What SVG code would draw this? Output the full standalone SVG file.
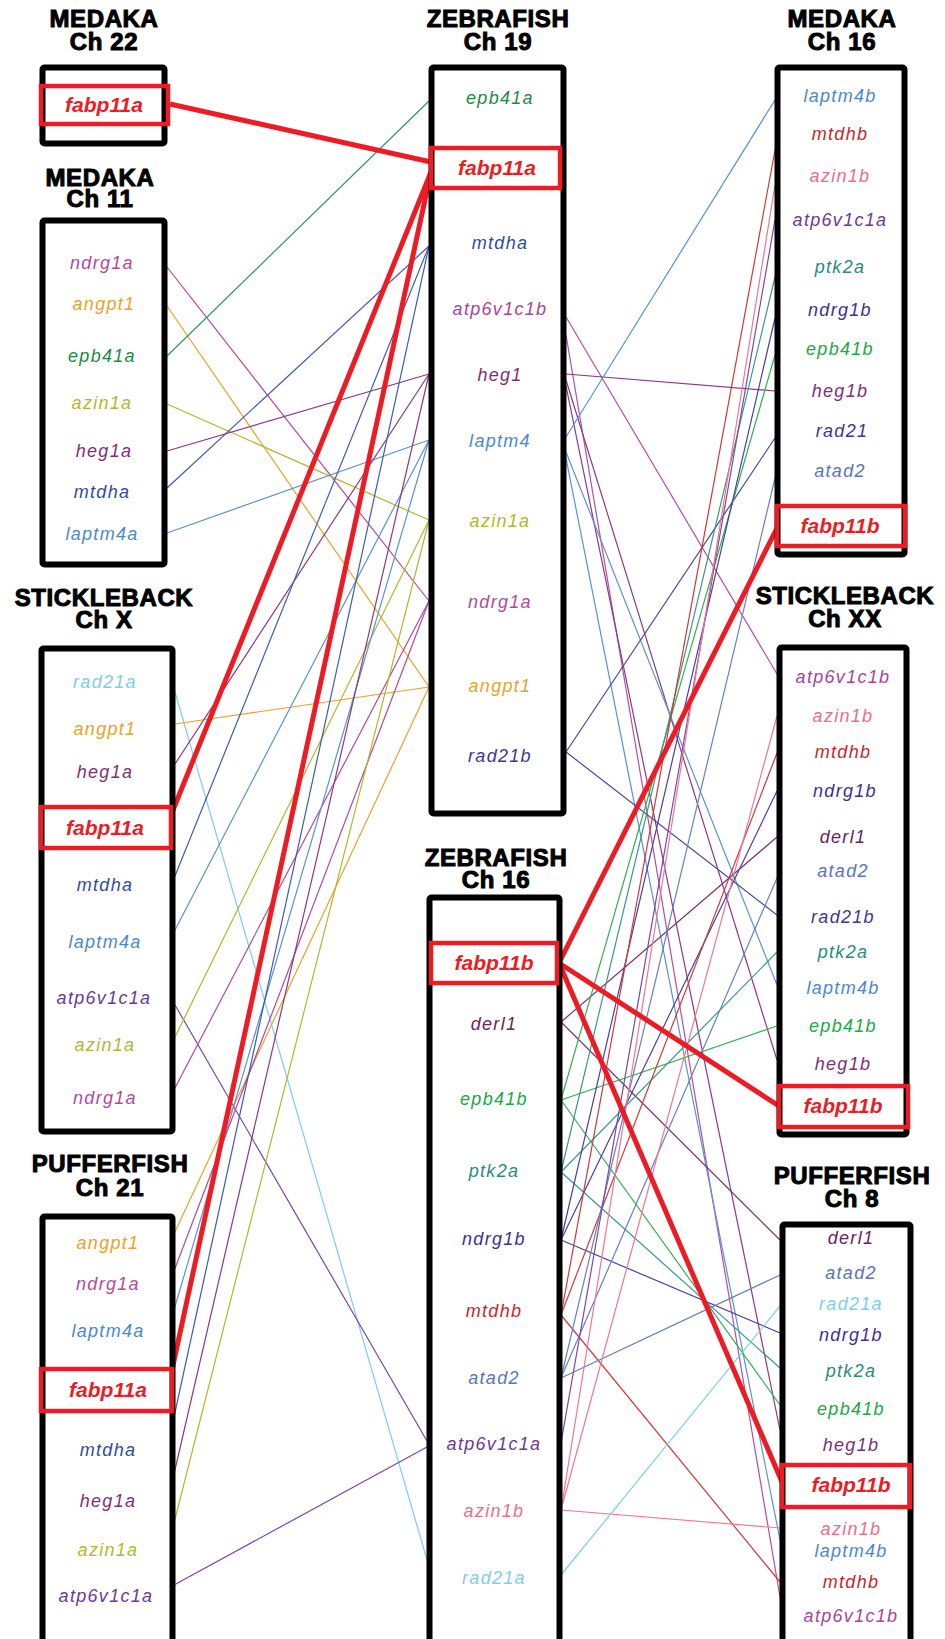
<svg xmlns="http://www.w3.org/2000/svg" width="945" height="1639" viewBox="0 0 945 1639">
<style>
.bg{fill:#fff}
.box{fill:none;stroke:#000;stroke-width:6}
.hl{fill:none;stroke:#ED1C24;stroke-width:4.5}
.t{font-family:"Liberation Sans",Arial,sans-serif;font-weight:bold;font-size:24px;text-anchor:middle;fill:#000;stroke:#000;stroke-width:1;letter-spacing:0.6px}
.g{font-family:"Liberation Sans",Arial,sans-serif;font-style:italic;font-size:18px;text-anchor:middle;letter-spacing:1.3px}
.r{font-family:"Liberation Sans",Arial,sans-serif;font-style:italic;font-weight:bold;font-size:21px;text-anchor:middle;fill:#ED1C24}
line{fill:none;stroke-width:1.2}
line.fab{stroke:#ED1C24;stroke-width:5}
.ndrg1a{fill:#B04A9E} line.ndrg1a{stroke:#B04A9E}
.angpt1{fill:#E9A22A} line.angpt1{stroke:#E9A22A}
.epb41a{fill:#1D8A44} line.epb41a{stroke:#2E9A50}
.azin1a{fill:#B3B72D} line.azin1a{stroke:#B3B72D}
.heg{fill:#7E2F78} line.heg{stroke:#8A3A84}
.mtdha{fill:#2F4BA3} line.mtdha{stroke:#3F5BB3}
.laptm{fill:#4C88CC} line.laptm{stroke:#5A92D2}
.rad21a{fill:#7DCDEB} line.rad21a{stroke:#7DCDEB}
.atpa{fill:#6B3996} line.atpa{stroke:#7A48A5}
.atpb{fill:#A8449B} line.atpb{stroke:#B050A4}
.mtdhb{fill:#C7262C} line.mtdhb{stroke:#CC3A3A}
.azin1b{fill:#EA6E8A} line.azin1b{stroke:#EE7890}
.ptk2a{fill:#2B8B7C} line.ptk2a{stroke:#3A9888}
.ndrg1b{fill:#3B318F} line.ndrg1b{stroke:#4A40A0}
.epb41b{fill:#20A845} line.epb41b{stroke:#30B050}
.rad21b{fill:#3A3892} line.rad21b{stroke:#4A48A0}
.atad2{fill:#5A74B9} line.atad2{stroke:#6680C2}
.derl1{fill:#6B2262} line.derl1{stroke:#7A3472}
</style>
<rect class="bg" x="0" y="0" width="945" height="1639"/>

<g id="connectors">
  <!-- left side to Zebrafish Ch19 / Ch16 -->
  <line class="ndrg1a" x1="167" y1="267" x2="429" y2="601"/>
  <line class="angpt1" x1="167" y1="306" x2="429" y2="687"/>
  <line class="epb41a" x1="167" y1="356" x2="429" y2="101"/>
  <line class="azin1a" x1="167" y1="404" x2="429" y2="520"/>
  <line class="heg" x1="167" y1="451" x2="429" y2="374"/>
  <line class="mtdha" x1="167" y1="488" x2="429" y2="246"/>
  <line class="laptm" x1="167" y1="533" x2="429" y2="440"/>

  <line class="rad21a" x1="175" y1="692" x2="427" y2="1560"/>
  <line class="angpt1" x1="175" y1="724" x2="429" y2="687"/>
  <line class="heg" x1="175" y1="764" x2="429" y2="374"/>
  <line class="mtdha" x1="175" y1="876" x2="429" y2="246"/>
  <line class="laptm" x1="175" y1="930" x2="429" y2="440"/>
  <line class="atpa" x1="175" y1="1005" x2="427" y2="1441"/>
  <line class="azin1a" x1="175" y1="1037" x2="429" y2="520"/>
  <line class="ndrg1a" x1="175" y1="1088" x2="429" y2="601"/>

  <line class="angpt1" x1="174" y1="1234" x2="429" y2="687"/>
  <line class="ndrg1a" x1="174" y1="1271" x2="429" y2="601"/>
  <line class="laptm" x1="174" y1="1310" x2="429" y2="440"/>
  <line class="mtdha" x1="174" y1="1417" x2="429" y2="246"/>
  <line class="heg" x1="174" y1="1474" x2="429" y2="374"/>
  <line class="azin1a" x1="174" y1="1523" x2="429" y2="520"/>
  <line class="atpa" x1="174" y1="1585" x2="427" y2="1447"/>

  <!-- Zebrafish Ch19 to right side -->
  <line class="atpb" x1="566" y1="317" x2="777" y2="674"/>
  <line class="atpb" x1="566" y1="335" x2="780" y2="1597"/>
  <line class="heg" x1="566" y1="374" x2="775" y2="391"/>
  <line class="heg" x1="566" y1="380" x2="777" y2="1060"/>
  <line class="heg" x1="566" y1="386" x2="780" y2="1430"/>
  <line class="laptm" x1="566" y1="437" x2="775" y2="100"/>
  <line class="laptm" x1="566" y1="452" x2="777" y2="985"/>
  <line class="laptm" x1="566" y1="458" x2="780" y2="1540"/>
  <line class="rad21b" x1="566" y1="752" x2="775" y2="438"/>
  <line class="rad21b" x1="566" y1="752" x2="777" y2="915"/>

  <!-- Zebrafish Ch16 to right side -->
  <line class="derl1" x1="561" y1="1022" x2="777" y2="837"/>
  <line class="derl1" x1="561" y1="1022" x2="780" y2="1240"/>
  <line class="epb41b" x1="561" y1="1100" x2="775" y2="355"/>
  <line class="epb41b" x1="561" y1="1100" x2="777" y2="1026"/>
  <line class="epb41b" x1="561" y1="1100" x2="780" y2="1405"/>
  <line class="ptk2a" x1="561" y1="1172" x2="775" y2="277"/>
  <line class="ptk2a" x1="561" y1="1172" x2="777" y2="952"/>
  <line class="ptk2a" x1="561" y1="1172" x2="780" y2="1368"/>
  <line class="ndrg1b" x1="561" y1="1240" x2="775" y2="318"/>
  <line class="ndrg1b" x1="561" y1="1240" x2="777" y2="791"/>
  <line class="ndrg1b" x1="561" y1="1240" x2="780" y2="1333"/>
  <line class="mtdhb" x1="561" y1="1315" x2="775" y2="150"/>
  <line class="mtdhb" x1="561" y1="1315" x2="777" y2="753"/>
  <line class="mtdhb" x1="561" y1="1315" x2="780" y2="1582"/>
  <line class="atad2" x1="561" y1="1378" x2="775" y2="478"/>
  <line class="atad2" x1="561" y1="1378" x2="777" y2="878"/>
  <line class="atad2" x1="561" y1="1378" x2="780" y2="1275"/>
  <line class="atpa" x1="561" y1="1443" x2="775" y2="220"/>
  <line class="azin1b" x1="561" y1="1510" x2="775" y2="185"/>
  <line class="azin1b" x1="561" y1="1510" x2="777" y2="716"/>
  <line class="azin1b" x1="561" y1="1510" x2="780" y2="1528"/>
  <line class="rad21a" x1="561" y1="1575" x2="780" y2="1306"/>

  <!-- fabp11 paralogs -->
  <line class="fab" x1="170" y1="104" x2="431" y2="162"/>
  <line class="fab" x1="171" y1="815" x2="431" y2="172"/>
  <line class="fab" x1="172" y1="1370" x2="431" y2="172"/>
  <line class="fab" x1="559" y1="963" x2="777" y2="528"/>
  <line class="fab" x1="559" y1="963" x2="779" y2="1106"/>
  <line class="fab" x1="559" y1="963" x2="782" y2="1482"/>
</g>

<g id="medaka-ch22">
  <text class="t" x="104" y="27">MEDAKA</text>
  <text class="t" x="104" y="50">Ch 22</text>
  <rect class="box" x="42.5" y="67.5" width="122" height="76" rx="2"/>
  <rect class="hl" x="41" y="86" width="127" height="38"/>
  <text class="r" x="104" y="112">fabp11a</text>
</g>

<g id="medaka-ch11">
  <text class="t" x="100" y="186">MEDAKA</text>
  <text class="t" x="100" y="207">Ch 11</text>
  <rect class="box" x="42.5" y="220.5" width="122" height="344" rx="2"/>
  <text class="g ndrg1a" x="102" y="269">ndrg1a</text>
  <text class="g angpt1" x="104" y="310">angpt1</text>
  <text class="g epb41a" x="102" y="362">epb41a</text>
  <text class="g azin1a" x="102" y="409">azin1a</text>
  <text class="g heg" x="104" y="457">heg1a</text>
  <text class="g mtdha" x="102" y="498">mtdha</text>
  <text class="g laptm" x="102" y="540">laptm4a</text>
</g>

<g id="stickleback-chX">
  <text class="t" x="104" y="606">STICKLEBACK</text>
  <text class="t" x="104" y="628">Ch X</text>
  <rect class="box" x="41.5" y="648.5" width="131" height="483" rx="2"/>
  <text class="g rad21a" x="105" y="688">rad21a</text>
  <text class="g angpt1" x="105" y="735">angpt1</text>
  <text class="g heg" x="105" y="778">heg1a</text>
  <rect class="hl" x="41" y="807" width="130" height="41"/>
  <text class="r" x="105" y="835">fabp11a</text>
  <text class="g mtdha" x="105" y="891">mtdha</text>
  <text class="g laptm" x="105" y="948">laptm4a</text>
  <text class="g atpa" x="104" y="1004">atp6v1c1a</text>
  <text class="g azin1a" x="105" y="1051">azin1a</text>
  <text class="g ndrg1a" x="105" y="1104">ndrg1a</text>
</g>

<g id="pufferfish-ch21">
  <text class="t" x="110" y="1172">PUFFERFISH</text>
  <text class="t" x="110" y="1196">Ch 21</text>
  <rect class="box" x="42.5" y="1216.5" width="130" height="440" rx="2"/>
  <text class="g angpt1" x="108" y="1249">angpt1</text>
  <text class="g ndrg1a" x="108" y="1290">ndrg1a</text>
  <text class="g laptm" x="108" y="1337">laptm4a</text>
  <rect class="hl" x="41" y="1369" width="131" height="42"/>
  <text class="r" x="108" y="1397">fabp11a</text>
  <text class="g mtdha" x="108" y="1456">mtdha</text>
  <text class="g heg" x="108" y="1507">heg1a</text>
  <text class="g azin1a" x="108" y="1556">azin1a</text>
  <text class="g atpa" x="106" y="1602">atp6v1c1a</text>
</g>

<g id="zebrafish-ch19">
  <text class="t" x="498" y="27">ZEBRAFISH</text>
  <text class="t" x="498" y="50">Ch 19</text>
  <rect class="box" x="431.5" y="67.5" width="132" height="746" rx="2"/>
  <text class="g epb41a" x="500" y="104">epb41a</text>
  <rect class="hl" x="431" y="148" width="129" height="40"/>
  <text class="r" x="497" y="175">fabp11a</text>
  <text class="g mtdha" x="500" y="249">mtdha</text>
  <text class="g atpb" x="500" y="315">atp6v1c1b</text>
  <text class="g heg" x="500" y="381">heg1</text>
  <text class="g laptm" x="500" y="447">laptm4</text>
  <text class="g azin1a" x="500" y="527">azin1a</text>
  <text class="g ndrg1a" x="500" y="608">ndrg1a</text>
  <text class="g angpt1" x="500" y="692">angpt1</text>
  <text class="g rad21b" x="500" y="762">rad21b</text>
</g>

<g id="zebrafish-ch16">
  <text class="t" x="496" y="866">ZEBRAFISH</text>
  <text class="t" x="496" y="888">Ch 16</text>
  <rect class="box" x="429.5" y="897.5" width="130" height="760" rx="2"/>
  <rect class="hl" x="431" y="943" width="126" height="40"/>
  <text class="r" x="494" y="970">fabp11b</text>
  <text class="g derl1" x="494" y="1030">derl1</text>
  <text class="g epb41b" x="494" y="1105">epb41b</text>
  <text class="g ptk2a" x="494" y="1177">ptk2a</text>
  <text class="g ndrg1b" x="494" y="1245">ndrg1b</text>
  <text class="g mtdhb" x="494" y="1317">mtdhb</text>
  <text class="g atad2" x="494" y="1384">atad2</text>
  <text class="g atpa" x="494" y="1450">atp6v1c1a</text>
  <text class="g azin1b" x="494" y="1517">azin1b</text>
  <text class="g rad21a" x="494" y="1584">rad21a</text>
</g>

<g id="medaka-ch16">
  <text class="t" x="842" y="27">MEDAKA</text>
  <text class="t" x="842" y="50">Ch 16</text>
  <rect class="box" x="777.5" y="67.5" width="127" height="487" rx="2"/>
  <text class="g laptm" x="840" y="102">laptm4b</text>
  <text class="g mtdhb" x="840" y="140">mtdhb</text>
  <text class="g azin1b" x="840" y="182">azin1b</text>
  <text class="g atpa" x="840" y="226">atp6v1c1a</text>
  <text class="g ptk2a" x="840" y="273">ptk2a</text>
  <text class="g ndrg1b" x="840" y="316">ndrg1b</text>
  <text class="g epb41b" x="840" y="355">epb41b</text>
  <text class="g heg" x="840" y="397">heg1b</text>
  <text class="g rad21b" x="842" y="437">rad21</text>
  <text class="g atad2" x="840" y="477">atad2</text>
  <rect class="hl" x="777" y="506" width="128" height="40"/>
  <text class="r" x="840" y="533">fabp11b</text>
</g>

<g id="stickleback-chXX">
  <text class="t" x="845" y="604">STICKLEBACK</text>
  <text class="t" x="845" y="627">Ch XX</text>
  <rect class="box" x="779.5" y="647.5" width="127" height="487" rx="2"/>
  <text class="g atpb" x="843" y="683">atp6v1c1b</text>
  <text class="g azin1b" x="843" y="722">azin1b</text>
  <text class="g mtdhb" x="843" y="758">mtdhb</text>
  <text class="g ndrg1b" x="845" y="797">ndrg1b</text>
  <text class="g derl1" x="843" y="843">derl1</text>
  <text class="g atad2" x="843" y="877">atad2</text>
  <text class="g rad21b" x="843" y="923">rad21b</text>
  <text class="g ptk2a" x="843" y="958">ptk2a</text>
  <text class="g laptm" x="843" y="994">laptm4b</text>
  <text class="g epb41b" x="843" y="1032">epb41b</text>
  <text class="g heg" x="843" y="1070">heg1b</text>
  <rect class="hl" x="779" y="1086" width="129" height="41"/>
  <text class="r" x="843" y="1113">fabp11b</text>
</g>

<g id="pufferfish-ch8">
  <text class="t" x="852" y="1184">PUFFERFISH</text>
  <text class="t" x="852" y="1207">Ch 8</text>
  <rect class="box" x="782.5" y="1224.5" width="128" height="430" rx="2"/>
  <text class="g derl1" x="851" y="1244">derl1</text>
  <text class="g atad2" x="851" y="1279">atad2</text>
  <text class="g rad21a" x="851" y="1310">rad21a</text>
  <text class="g ndrg1b" x="851" y="1341">ndrg1b</text>
  <text class="g ptk2a" x="851" y="1377">ptk2a</text>
  <text class="g epb41b" x="851" y="1415">epb41b</text>
  <text class="g heg" x="851" y="1451">heg1b</text>
  <rect class="hl" x="782" y="1465" width="128" height="42"/>
  <text class="r" x="851" y="1492">fabp11b</text>
  <text class="g azin1b" x="851" y="1535">azin1b</text>
  <text class="g laptm" x="851" y="1557">laptm4b</text>
  <text class="g mtdhb" x="851" y="1588">mtdhb</text>
  <text class="g atpb" x="851" y="1622">atp6v1c1b</text>
</g>
</svg>
